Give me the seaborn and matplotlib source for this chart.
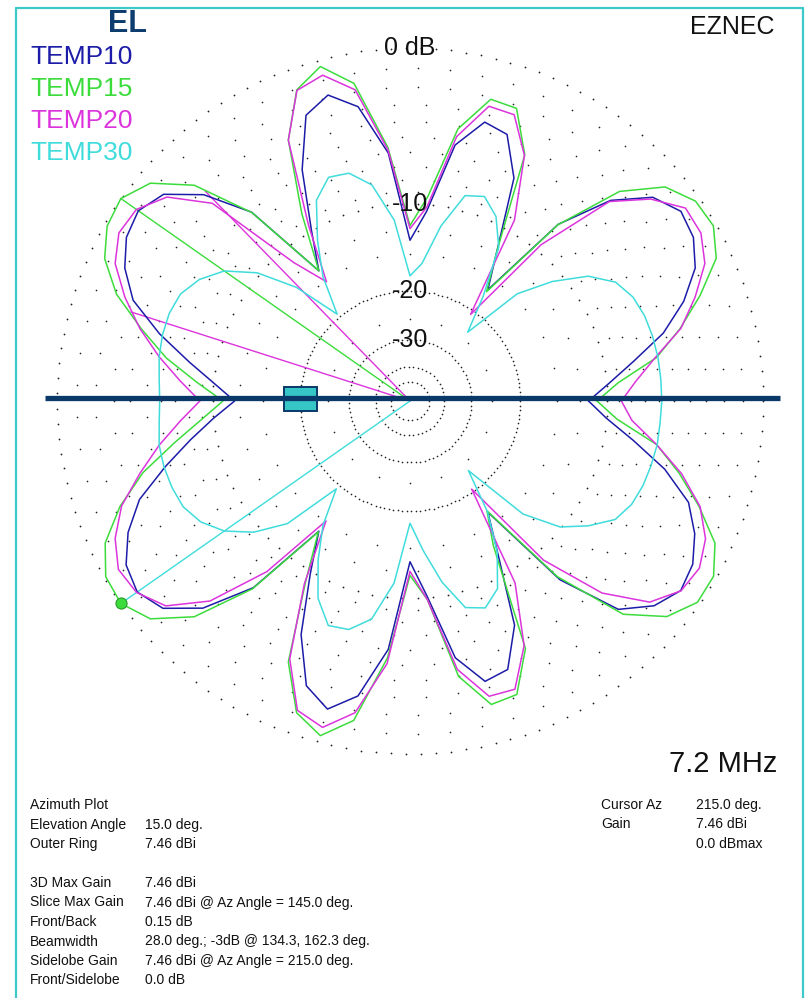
import numpy as np
import pandas as pd
import seaborn as sns
import matplotlib.pyplot as plt
from matplotlib.patches import Rectangle

# azimuth pattern, dB relative to outer ring, every 5 deg (0 = right, ccw)
az_deg = list(range(0, 360, 5))
temp10_db = [-11.7, -9.8, -7.6, -5.1, -3.3, -1.97, -1.3, -1.12, -1.85, -3.75, -7.3, -16.4,
             -12.1, -6.2, -3.75, -3.45, -5.25, -10.6, -13.5, -6.0, -2.86, -1.86, -2.56, -5.57,
             -10.0, -13.7, -6.16, -3.27, -1.6, -1.07, -1.29, -1.97, -3.1, -5.3, -7.8, -10.1,
             -12.0, -10.0, -7.9, -5.7, -3.5, -2.17, -1.27, -1.0, -1.55, -3.2, -6.36, -13.7,
             -9.8, -5.4, -2.62, -1.74, -2.82, -5.97, -13.5, -10.1, -5.2, -3.36, -3.63, -6.1,
             -12.0, -16.4, -7.1, -3.1, -1.76, -1.13, -1.34, -2.0, -3.0, -5.0, -7.6, -10.0]
temp15_db = [-10.9, -9.0, -5.9, -4.0, -2.3, -0.75, -0.13, -0.22, -1.0, -3.0, -7.35, -16.7,
             -12.1, -4.5, -2.15, -2.1, -4.2, -9.3, -12.0, -5.6, -1.55, -0.33, -1.1, -3.5,
             -8.4, -13.7, -6.2, -2.5, -0.7, 0.0, -0.16, -0.8, -2.1, -4.1, -6.1, -8.6,
             -10.9, -9.0, -6.7, -4.2, -2.3, -0.83, -0.08, 0.0, -0.7, -2.5, -6.25, -13.6,
             -9.0, -3.5, -1.07, -0.32, -1.45, -5.4, -12.1, -9.8, -4.0, -2.0, -2.1, -4.4,
             -12.9, -16.6, -7.4, -2.7, -0.88, -0.1, -0.12, -0.82, -2.37, -4.06, -5.9, -9.1]
temp20_db = [-8.8, -7.6, -6.0, -3.95, -2.6, -1.4, -0.85, -0.83, -2.0, -3.85, -9.4, -20.7,
             -9.0, -4.55, -2.53, -2.5, -4.7, -10.2, -12.3, -5.8, -1.9, -0.78, -1.13, -3.5,
             -9.5, -15.2, -11.5, -4.0, -1.83, -0.95, -0.84, -1.4, -2.6, -4.0, -5.6, -7.3,
             -8.9, -7.3, -5.6, -4.0, -2.4, -1.4, -0.81, -0.96, -1.75, -3.8, -7.9, -15.1,
             -8.8, -3.7, -1.2, -0.75, -1.87, -5.0, -12.5, -9.8, -4.44, -2.47, -2.41, -4.6,
             -8.9, -20.4, -9.1, -4.5, -2.07, -1.11, -0.94, -1.36, -2.3, -3.9, -5.9, -7.9]
temp30_db = [-5.8, -5.8, -5.8, -5.85, -5.95, -6.2, -6.8, -8.3, -11.0, -14.5, -23.5, -17.5,
             -11.8, -9.45, -8.3, -8.7, -11.8, -16.1, -17.8, -11.4, -8.16, -6.92, -6.76, -8.0,
             -11.1, -14.5, -19.5, -13.5, -9.8, -7.6, -6.4, -5.7, -5.5, -5.5, -5.6, -5.8,
             -5.9, -5.8, -5.6, -5.6, -5.7, -5.9, -6.5, -7.6, -9.4, -12.2, -19.3, -14.5,
             -11.2, -8.3, -6.7, -6.87, -8.0, -11.3, -18.2, -14.7, -11.2, -8.6, -8.1, -9.15,
             -12.1, -16.5, -23.3, -13.6, -10.1, -8.3, -6.84, -6.3, -6.07, -5.95, -5.85, -5.85]

series_names = ['TEMP10', 'TEMP15', 'TEMP20', 'TEMP30']
series_colors = ['#1c1ca8', '#3cdc3c', '#dc34dc', '#40dcdc']

ring_db = [0, -10, -20, -30]
ring_labels = ['0 dB', '-10', '-20', '-30']

max_az = 145.0
cursor_az = 215.0
bw_az = [134.3, 162.3]
bw_db = -3.2

info_keys = ['Azimuth Plot', 'Elevation Angle', 'Outer Ring', '',
             '3D Max Gain', 'Slice Max Gain', 'Front/Back', 'Beamwidth',
             'Sidelobe Gain', 'Front/Sidelobe']
info_vals = ['', '15.0 deg.', '7.46 dBi', '',
             '7.46 dBi', '7.46 dBi @ Az Angle = 145.0 deg.', '0.15 dB',
             '28.0 deg.; -3dB @ 134.3, 162.3 deg.',
             '7.46 dBi @ Az Angle = 215.0 deg.', '0.0 dB']
cursor_keys = ['Cursor Az', 'Gain', '']
cursor_vals = ['215.0 deg.', '7.46 dBi', '0.0 dBmax']
freq_label = '7.2 MHz'


def arrl(db):
    # ARRL log scale: 0.89 per 2 dB
    return 0.89 ** (-np.asarray(db, dtype=float) / 2.0)


sns.set_theme(style='white')
plt.rcParams['font.family'] = ['Liberation Sans', 'DejaVu Sans']

W, H = 808, 998
fig = plt.figure(figsize=(W / 100, H / 100), dpi=100)
fig.patch.set_facecolor('white')

cx, cy, R = 410, 401, 353
ax = fig.add_axes([(cx - R) / W, (H - cy - R) / H, 2 * R / W, 2 * R / H], projection='polar')
ax.set_theta_zero_location('E')
ax.set_ylim(0, 1)
ax.grid(False)
ax.set_xticks([])
ax.set_yticks([])
ax.spines['polar'].set_visible(False)
ax.set_facecolor('none')

# grid dots
def dot_ring(db, spacing, ms=1.3):
    r = float(arrl(db))
    n = max(int(2 * np.pi * r * R / spacing), 6)
    th = np.linspace(0, 2 * np.pi, n, endpoint=False)
    ax.plot(th, np.full(n, r), ls='none', marker='o', ms=ms, mew=0, color='#222222',
            zorder=1, clip_on=False)

for d in [0, -10]:
    dot_ring(d, 15)
for d in [-20, -30, -40, -50]:
    dot_ring(d, 4.5, ms=1.2)
for d in [-1, -2, -3, -4, -5, -6, -7, -8, -9, -12.5, -15, -25]:
    dot_ring(d, 32, ms=1.2)

rows = []
for name, vals in zip(series_names, [temp10_db, temp15_db, temp20_db, temp30_db]):
    th = np.deg2rad(az_deg + [az_deg[0] + 360])
    rr = arrl(vals + [vals[0]])
    for t, r in zip(th, rr):
        rows.append((name, t, r))
df = pd.DataFrame(rows, columns=['series', 'theta', 'r'])

# cursor / beamwidth lines
for a, d, c in [(max_az, 0.0, series_colors[1]), (bw_az[0], bw_db, series_colors[2]),
                (bw_az[1], bw_db, series_colors[2]), (cursor_az, 0.0, series_colors[3])]:
    ax.plot([0, np.deg2rad(a)], [0, arrl(d)], color=c, lw=1.0, zorder=2, clip_on=False)

sns.lineplot(data=df, x='theta', y='r', hue='series', sort=False, estimator=None,
             palette=dict(zip(series_names, series_colors)), legend=False,
             lw=1.1, ax=ax, zorder=3)
for ln in ax.lines:
    ln.set_clip_on(False)
ax.set_xlabel('')
ax.set_ylabel('')
ax.set_ylim(0, 1)

ax.plot([np.deg2rad(cursor_az)], [arrl(0.0)], marker='o', ms=8, color='#3cdc3c',
        mec='#2a9a2a', mew=0.8, zorder=5, clip_on=False)

for d, lab in zip(ring_db, ring_labels):
    ax.text(np.pi / 2, arrl(d), lab, ha='center', va='center', fontsize=18,
            color='#111111', zorder=6)

# overlay in pixel coordinates
ov = fig.add_axes([0, 0, 1, 1], zorder=5)
ov.set_xlim(0, W)
ov.set_ylim(H, 0)
ov.axis('off')
ov.patch.set_alpha(0)

fc = '#3ec8c8'
ov.plot([16, 16], [8, 998], color=fc, lw=1.6)
ov.plot([16, 803], [8, 8], color=fc, lw=1.6)
ov.plot([803, 803], [8, 998], color=fc, lw=1.6)

ov.plot([45, 780], [398, 398], color='#0a3868', lw=3.8, solid_capstyle='butt')
ov.add_patch(Rectangle((284, 387), 33, 24, facecolor='#36c6c6', edgecolor='#0a3868', lw=1.4))

ov.text(128, 24, 'EL', ha='center', va='center', fontsize=22, fontweight='bold', color='#0d3c6e')
for i, (name, col) in enumerate(zip(series_names, series_colors)):
    ov.text(30, 57 + i * 32, name, ha='left', va='center', fontsize=19, color=col)
ov.text(732, 27, 'EZNEC', ha='center', va='center', fontsize=18, color='#111111')
ov.text(777, 764, freq_label, ha='right', va='center', fontsize=21, color='#111111')

for i, (k, v) in enumerate(zip(info_keys, info_vals)):
    y = 805 + i * 19.5
    ov.text(30, y, k, ha='left', va='center', fontsize=10, color='#111111')
    ov.text(145, y, v, ha='left', va='center', fontsize=10, color='#111111')
for i, (k, v) in enumerate(zip(cursor_keys, cursor_vals)):
    y = 805 + i * 19.5
    ov.text(601, y, k, ha='left', va='center', fontsize=10, color='#111111')
    ov.text(696, y, v, ha='left', va='center', fontsize=10, color='#111111')

fig.savefig('out.png', dpi=100)
